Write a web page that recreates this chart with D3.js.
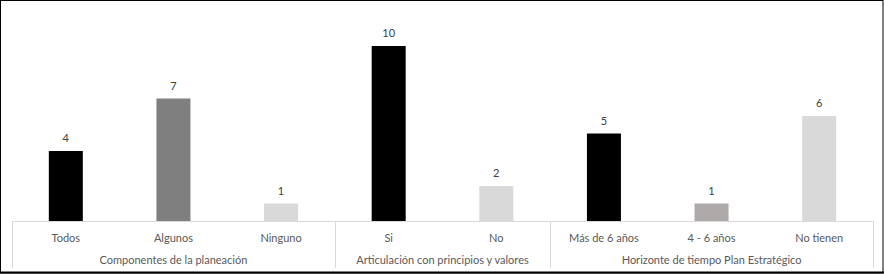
<!DOCTYPE html>
<html>
<head>
<meta charset="utf-8">
<script src="https://cdn.jsdelivr.net/npm/d3@7"></script>
<style>
  html, body { margin:0; padding:0; background:#fff; }
  svg { display:block; font-family: Lato, "Open Sans", sans-serif; }
</style>
</head>
<body>
<div id="chart"></div>
<script>
// data
const categories = ["Todos", "Algunos", "Ninguno", "Si", "No", "Más de 6 años", "4 - 6 años", "No tienen"];
const values     = [4, 7, 1, 10, 2, 5, 1, 6];
const colors     = ["#000000", "#7f7f7f", "#d9d9d9", "#000000", "#d9d9d9", "#000000", "#aeaaaa", "#d9d9d9"];
const groups     = ["Componentes de la planeación", "Articulación con principios y valores", "Horizonte de tiempo Plan Estratégico"];
const groupSizes = [3, 2, 3];

const W = 884, H = 274;
const m = { left: 12, right: 11, base: 221 };
const textColor = "#595959";

const svg = d3.select("#chart").append("svg")
  .attr("width", W).attr("height", H);

// outer frame
svg.append("rect")
  .attr("x", 0.5).attr("y", 0.5)
  .attr("width", W - 1.5).attr("height", H - 1.5)
  .attr("fill", "none").attr("stroke", "#000").attr("stroke-width", 1);
svg.append("line")
  .attr("x1", 0).attr("x2", W).attr("y1", H - 1.5).attr("y2", H - 1.5)
  .attr("stroke", "#000").attr("stroke-width", 2);

const x = d3.scaleBand()
  .domain(categories)
  .range([m.left, W - m.right])
  .paddingInner(0.684).paddingOuter(0.342);

const y = d3.scaleLinear()
  .domain([0, 10])
  .range([m.base, 46]);

// bars
svg.selectAll("rect.bar")
  .data(categories)
  .join("rect")
    .attr("class", "bar")
    .attr("x", d => x(d))
    .attr("y", (d, i) => y(values[i]))
    .attr("width", x.bandwidth())
    .attr("height", (d, i) => y(0) - y(values[i]))
    .attr("fill", (d, i) => colors[i]);

// value labels
svg.selectAll("text.val")
  .data(categories)
  .join("text")
    .attr("class", "val")
    .attr("x", d => x(d) + x.bandwidth() / 2)
    .attr("y", (d, i) => y(values[i]) - 9)
    .attr("text-anchor", "middle")
    .attr("font-size", 11)
    .attr("fill", "#404040")
    .text((d, i) => values[i]);

// category axis
const step = x.step();
const axisG = svg.append("g").attr("stroke", "#d9d9d9").attr("stroke-width", 1);
axisG.append("line")
  .attr("x1", m.left).attr("x2", W - m.right)
  .attr("y1", m.base + 0.5).attr("y2", m.base + 0.5);

let start = 0;
const bounds = [0];
groupSizes.forEach(n => { start += n; bounds.push(start); });
bounds.forEach(b => {
  const xx = Math.round(m.left + b * step) + 0.5;
  axisG.append("line")
    .attr("x1", xx).attr("x2", xx)
    .attr("y1", m.base).attr("y2", 268);
});

svg.selectAll("text.cat")
  .data(categories)
  .join("text")
    .attr("class", "cat")
    .attr("x", d => x(d) + x.bandwidth() / 2)
    .attr("y", 242)
    .attr("text-anchor", "middle")
    .attr("font-size", 11)
    .attr("fill", textColor)
    .text(d => d);

svg.selectAll("text.grp")
  .data(groups)
  .join("text")
    .attr("class", "grp")
    .attr("x", (d, i) => m.left + (bounds[i] + bounds[i + 1]) / 2 * step)
    .attr("y", 264)
    .attr("text-anchor", "middle")
    .attr("font-size", 11)
    .attr("fill", textColor)
    .text(d => d);
</script>
</body>
</html>
